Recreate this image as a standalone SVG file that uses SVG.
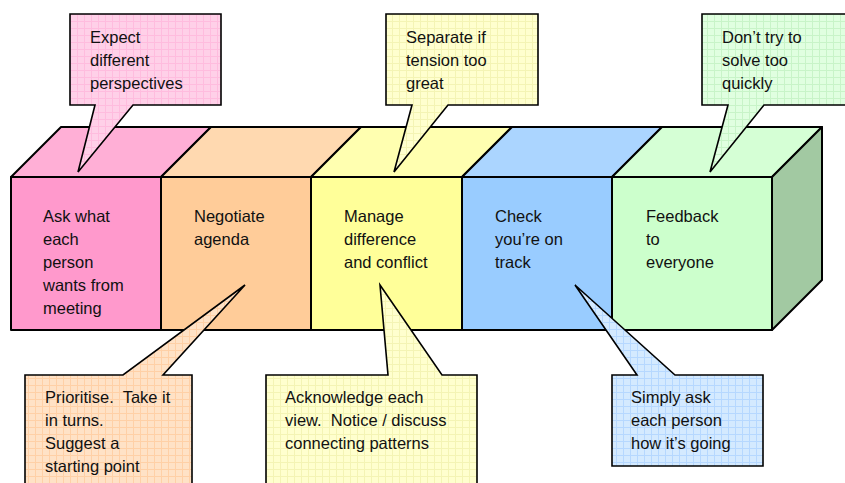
<svg xmlns="http://www.w3.org/2000/svg" width="845" height="483" viewBox="0 0 845 483">
<defs>
<pattern id="pPink" width="7" height="7" patternUnits="userSpaceOnUse"><rect width="7" height="7" fill="#FFD0E8"/><path d="M0 0.5H7M0.5 0V7" stroke="#FFBCDE" stroke-width="1"/></pattern>
<pattern id="pOrange" width="7" height="7" patternUnits="userSpaceOnUse"><rect width="7" height="7" fill="#FFE2C6"/><path d="M0 0.5H7M0.5 0V7" stroke="#FFD0A6" stroke-width="1"/></pattern>
<pattern id="pYellow" width="7" height="7" patternUnits="userSpaceOnUse"><rect width="7" height="7" fill="#FFFFCE"/><path d="M0 0.5H7M0.5 0V7" stroke="#F4F4B4" stroke-width="1"/></pattern>
<pattern id="pGreen" width="7" height="7" patternUnits="userSpaceOnUse"><rect width="7" height="7" fill="#E0FFE0"/><path d="M0 0.5H7M0.5 0V7" stroke="#C8F4C8" stroke-width="1"/></pattern>
<pattern id="pBlue" width="7" height="7" patternUnits="userSpaceOnUse"><rect width="7" height="7" fill="#D4EAFF"/><path d="M0 0.5H7M0.5 0V7" stroke="#B6D8FF" stroke-width="1"/></pattern>
</defs>
<style>
.face{stroke:#000;stroke-width:2;stroke-linejoin:round}
.call{stroke:#000;stroke-width:1.6;stroke-linejoin:miter}
text{font-family:"Liberation Sans",Arial,sans-serif;font-size:16.5px;fill:#111;white-space:pre}
</style>
<rect width="845" height="483" fill="#fff"/>

<g id="box-pink">
<path class="face" d="M11 177 L61 127 L211 127 L161 177 Z" fill="#FFAFD6"/>
<rect class="face" x="11" y="177" width="150" height="153" fill="#FF99CC"/>
<text x="43" y="222">Ask what</text>
<text x="43" y="245">each</text>
<text x="43" y="268">person</text>
<text x="43" y="291">wants from</text>
<text x="43" y="314">meeting</text>
</g>
<g id="box-orange">
<path class="face" d="M161 177 L211 127 L361 127 L311 177 Z" fill="#FFD9B0"/>
<rect class="face" x="161" y="177" width="150" height="153" fill="#FFCC99"/>
<text x="194" y="222">Negotiate</text>
<text x="194" y="245">agenda</text>
</g>
<g id="box-yellow">
<path class="face" d="M311 177 L361 127 L512 127 L462 177 Z" fill="#FFFFB0"/>
<rect class="face" x="311" y="177" width="151" height="153" fill="#FFFF99"/>
<text x="344" y="222">Manage</text>
<text x="344" y="245">difference</text>
<text x="344" y="268">and conflict</text>
</g>
<g id="box-blue">
<path class="face" d="M462 177 L512 127 L662 127 L612 177 Z" fill="#ABD5FF"/>
<rect class="face" x="462" y="177" width="150" height="153" fill="#99CCFF"/>
<text x="495" y="222">Check</text>
<text x="495" y="245">you’re on</text>
<text x="495" y="268">track</text>
</g>
<g id="box-green">
<path class="face" d="M612 177 L662 127 L822 127 L772 177 Z" fill="#D5FFD5"/>
<path class="face" d="M772 177 L822 127 L822 280 L772 330 Z" fill="#A2C9A2"/>
<rect class="face" x="612" y="177" width="160" height="153" fill="#CCFFCC"/>
<text x="646" y="222">Feedback</text>
<text x="646" y="245">to</text>
<text x="646" y="268">everyone</text>
</g>

<g id="connectors">
<g id="callout-expect">
<path class="call" fill="url(#pPink)" d="M70 14 H221 V105 H133 L78 172 L95 105 H70 Z"/>
<text x="90" y="43">Expect</text>
<text x="90" y="66">different</text>
<text x="90" y="89">perspectives</text>
</g>
<g id="callout-separate">
<path class="call" fill="url(#pYellow)" d="M386 14 H538 V105 H448 L394 172 L412 105 H386 Z"/>
<text x="406" y="43">Separate if</text>
<text x="406" y="66">tension too</text>
<text x="406" y="89">great</text>
</g>
<g id="callout-dont">
<path class="call" fill="url(#pGreen)" d="M702 14 H848 V105 H764 L710 172 L728 105 H702 Z"/>
<text x="722" y="43">Don’t try to</text>
<text x="722" y="66">solve too</text>
<text x="722" y="89">quickly</text>
</g>
<g id="callout-prioritise">
<path class="call" fill="url(#pOrange)" d="M25 375 H123 L245 285 L163 375 H192 V490 H25 Z"/>
<text x="45" y="403">Prioritise.  Take it</text>
<text x="45" y="426">in turns.</text>
<text x="45" y="449">Suggest a</text>
<text x="45" y="472">starting point</text>
</g>
<g id="callout-acknowledge">
<path class="call" fill="url(#pYellow)" d="M266 375 H388 L380 285 L442 375 H477 V490 H266 Z"/>
<text x="285" y="403">Acknowledge each</text>
<text x="285" y="426">view.  Notice / discuss</text>
<text x="285" y="449">connecting patterns</text>
</g>
<g id="callout-simply">
<path class="call" fill="url(#pBlue)" d="M612 375 H637 L575 285 L675 375 H763 V466 H612 Z"/>
<text x="631" y="403">Simply ask</text>
<text x="631" y="426">each person</text>
<text x="631" y="449">how it’s going</text>
</g>
</g>
</svg>
